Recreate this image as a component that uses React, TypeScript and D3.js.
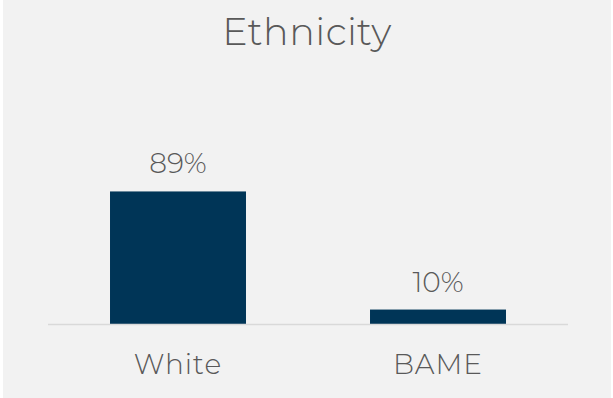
import React from "react";
import * as d3 from "d3";

const categories = ["White", "BAME"];
const values = [89, 10];
const valueLabels = ["89%", "10%"];
const title = "Ethnicity";

const W = 613;
const H = 398;

export default function App() {
  const x = d3.scaleBand<string>().domain(categories).range([48, 568]).paddingInner(0.477).paddingOuter(0.2385);
  const y = d3.scaleLinear().domain([0, 100]).range([324.5, 175]);
  const font = "Montserrat, 'Open Sans', Lato, sans-serif";
  return (
    <svg width={W} height={H} style={{ position: "absolute", left: 0, top: 0 }}>
      <rect x={0} y={0} width={W} height={H} fill="#ffffff" />
      <rect x={3} y={0} width={608} height={H} fill="#f2f2f2" />
      <text x={307} y={45} textAnchor="middle" fontFamily={font} fontSize={38} fontWeight={300} fill="#595959" letterSpacing={0.5}>
        {title}
      </text>
      {categories.map((c, i) => (
        <g key={c}>
          <rect x={x(c)} y={y(values[i])} width={x.bandwidth()} height={y(0) - y(values[i])} fill="#003557" />
          <text x={(x(c) as number) + x.bandwidth() / 2} y={y(values[i]) - 18} textAnchor="middle" fontFamily={font} fontSize={28} fontWeight={300} fill="#595959">
            {valueLabels[i]}
          </text>
          <text x={(x(c) as number) + x.bandwidth() / 2} y={374} textAnchor="middle" fontFamily={font} fontSize={28} fontWeight={300} fill="#595959" letterSpacing={1}>
            {c}
          </text>
        </g>
      ))}
      <line x1={48} x2={568} y1={y(0)} y2={y(0)} stroke="#d9d9d9" strokeWidth={1.5} />
    </svg>
  );
}
